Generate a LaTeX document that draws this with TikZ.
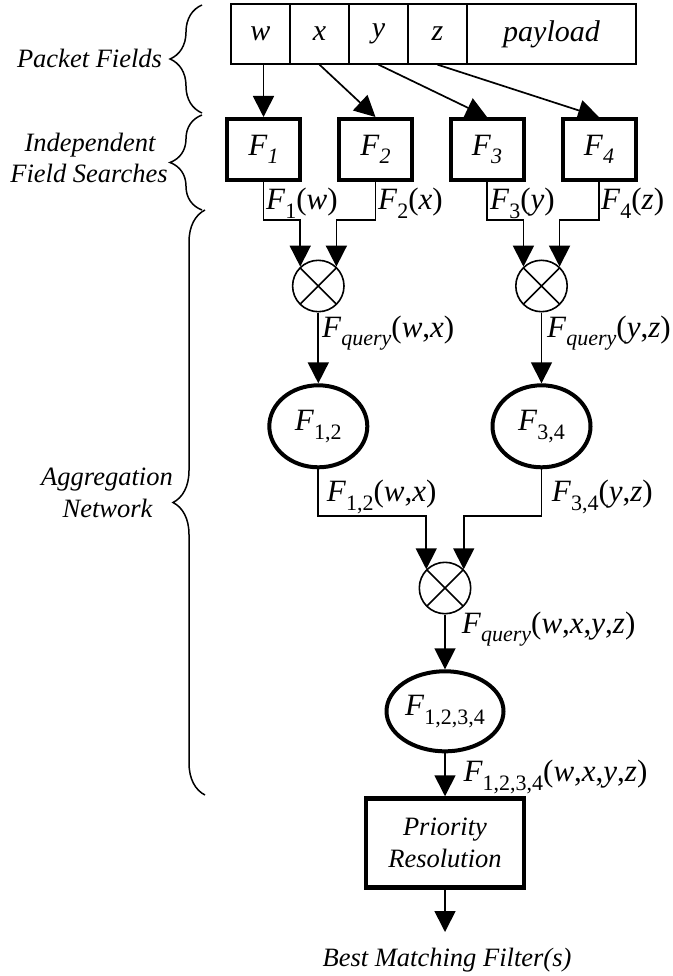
\documentclass[tikz,border=0pt]{standalone}
\usepackage{fontspec}
\setmainfont{Liberation Serif}
\usetikzlibrary{arrows.meta,shapes.geometric,decorations.pathreplacing}
\newcommand{\Sb}[1]{\raisebox{-8.5pt}{\fontsize{22}{22}\selectfont\upshape #1}}
\newcommand{\Sbi}[1]{\raisebox{-8.5pt}{\fontsize{22}{22}\selectfont\itshape #1}}
\begin{document}
\begin{tikzpicture}[x=1pt,y=-1pt,
  lbl/.style={font=\fontsize{31}{31}\selectfont, inner sep=0pt},
  side/.style={font=\fontsize{26.5}{31}\selectfont\itshape, inner sep=0pt},
  cell/.style={draw, line width=1.3pt, minimum height=60pt, inner sep=0pt, font=\fontsize{30}{30}\selectfont\itshape},
  fbox/.style={draw, line width=4pt, minimum width=73pt, minimum height=61pt, inner sep=0pt, font=\fontsize{31}{31}\selectfont},
  mult/.style={circle, draw, line width=1.6pt, minimum size=51.4pt, inner sep=0pt,
    path picture={\draw[line width=1.6pt] (path picture bounding box.north west) -- (path picture bounding box.south east)
      (path picture bounding box.north east) -- (path picture bounding box.south west);}},
  ell/.style={ellipse, draw, line width=4pt, inner sep=0pt, font=\fontsize{31}{31}\selectfont},
  prbox/.style={draw, line width=4.5pt, minimum width=158pt, minimum height=89pt, inner sep=0pt, align=center,
    font=\fontsize{26.5}{31.3}\selectfont\itshape},
  arr/.style={line width=1.7pt, -{Triangle[length=21pt,width=21pt]}},
  brc/.style={line width=1.5pt, decorate, decoration={brace, amplitude=32pt}}
]
\useasboundingbox (0,0) rectangle (672,976);

% packet fields
\node[cell, minimum width=59pt] (cw) at (260.5,34) {w};
\node[cell, minimum width=59pt] (cx) at (319.5,34) {x};
\node[cell, minimum width=59pt] (cy) at (378.5,34) {y};
\node[cell, minimum width=59pt] (cz) at (437.5,34) {z};
\node[cell, minimum width=169pt] (cp) at (551.5,34) {payload};

% field searches
\node[fbox] (F1) at (263.5,149.5) {\textit{F}\Sbi{1}};
\node[fbox] (F2) at (375.5,149.5) {\textit{F}\Sbi{2}};
\node[fbox] (F3) at (487,149.5) {\textit{F}\Sbi{3}};
\node[fbox] (F4) at (599,149.5) {\textit{F}\Sbi{4}};

\draw[arr] (F1.north |- cw.south) -- (F1.north);
\draw[arr] (cx.south) -- (F2.north);
\draw[arr] (cy.south) -- (F3.north);
\draw[arr] (cz.south) -- (F4.north);

% aggregation
\node[mult] (C1) at (318.3,286) {};
\node[mult] (C2) at (541.5,286) {};
\node[mult] (C3) at (445,588) {};
\node[ell, minimum width=98pt, minimum height=82pt] (E12) at (318.3,426.3) {\textit{F}\Sb{1,2}};
\node[ell, minimum width=98pt, minimum height=82pt] (E34) at (541.5,426.3) {\textit{F}\Sb{3,4}};
\node[ell, minimum width=117pt, minimum height=80pt] (E1234) at (445,711.3) {\textit{F}\Sb{1,2,3,4}};
\node[prbox] (PR) at (445,843) {Priority\\Resolution};

\coordinate (h1) at (0,220);
\coordinate (h2) at (0,516);
\coordinate (outp) at (445,932);

\draw[arr] (F1.south) -- (F1.south |- h1) -| (C1.133);
\draw[arr] (F2.south) -- (F2.south |- h1) -| (C1.47);
\draw[arr] (F3.south) -- (F3.south |- h1) -| (C2.133);
\draw[arr] (F4.south) -- (F4.south |- h1) -| (C2.47);
\draw[arr] (C1.south) -- (E12.north);
\draw[arr] (C2.south) -- (E34.north);
\draw[arr] (E12.south) -- (E12.south |- h2) -| (C3.135);
\draw[arr] (E34.south) -- (E34.south |- h2) -| (C3.45);
\draw[arr] (C3.south) -- (E1234.north);
\draw[arr] (E1234.south) -- (PR.north);
\draw[arr] (PR.south) -- (outp);

% connector labels
\node[lbl, anchor=base west] (l1) at (266,210) {\textit{F}\Sb{1}(\textit{w})};
\node[lbl, anchor=base west] (l2) at (378,210) {\textit{F}\Sb{2}(\textit{x})};
\node[lbl, anchor=base west] (l3) at (490,210) {\textit{F}\Sb{3}(\textit{y})};
\node[lbl, anchor=base west] (l4) at (601,210) {\textit{F}\Sb{4}(\textit{z})};
\node[lbl, anchor=base west] (q1) at (322,337) {\textit{F}\Sbi{query}(\textit{w},\textit{x})};
\node[lbl, anchor=base west] (q2) at (547,337) {\textit{F}\Sbi{query}(\textit{y},\textit{z})};
\node[lbl, anchor=base west] (r1) at (326.7,501.7) {\textit{F}\Sb{1,2}(\textit{w},\textit{x})};
\node[lbl, anchor=base west] (r2) at (551.7,501.7) {\textit{F}\Sb{3,4}(\textit{y},\textit{z})};
\node[lbl, anchor=base west] (q3) at (461.7,633) {\textit{F}\Sbi{query}(\textit{w},\textit{x},\textit{y},\textit{z})};
\node[lbl, anchor=base west] (r3) at (463.3,781.7) {\textit{F}\Sb{1,2,3,4}(\textit{w},\textit{x},\textit{y},\textit{z})};
\node[side, anchor=base] (best) at (447,966.7) {Best Matching Filter(s)};

% braces and side labels
\draw[brc] (202,113) -- (202,5);
\draw[brc] (202,210) -- (202,115);
\draw[brc] (205,795) -- (205,210);
\node[side, anchor=base] (pf) at (89.5,68) {Packet Fields};
\node[side, anchor=base] (ind1) at (90,152) {Independent};
\node[side, anchor=base] (ind2) at (89,183) {Field Searches};
\node[side, anchor=base] (agg1) at (107,485) {Aggregation};
\node[side, anchor=base] (agg2) at (107.5,517) {Network};
\end{tikzpicture}
\end{document}
